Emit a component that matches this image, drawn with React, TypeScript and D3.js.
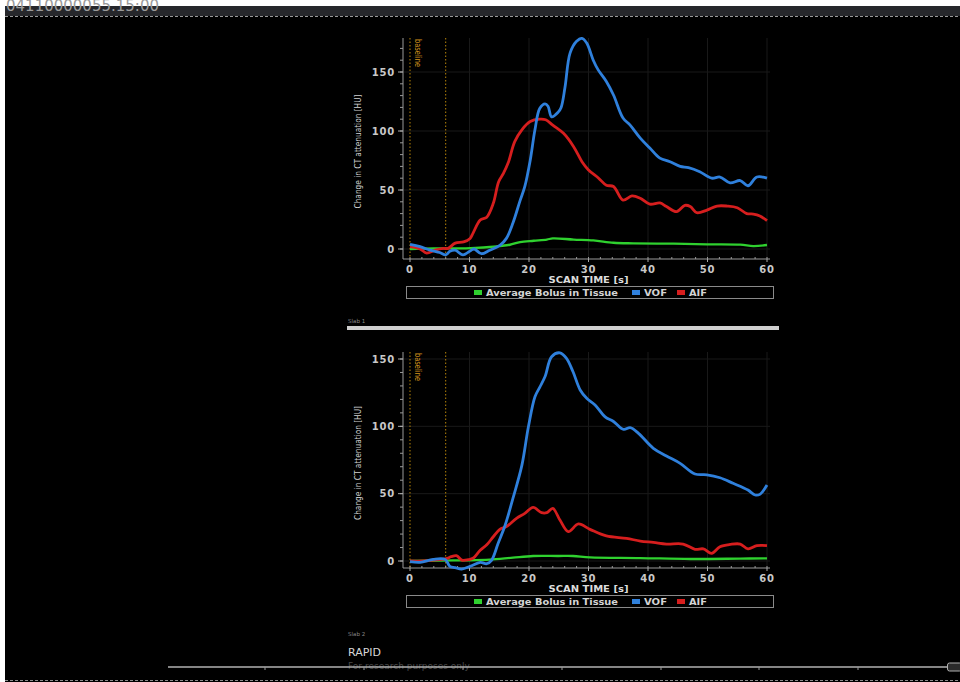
import React from 'react';
import * as d3 from 'd3';

// time [s], change in HU
const slab1Vof: [number, number][] = [
  [0, 4], [1.7, 2], [3.4, -1], [5, -3], [6, -5], [6.7, -2], [7.6, -1], [8.9, -5], [10.3, -1], [10.8, 0],
  [12, -4], [13.4, -1], [15.1, 3], [16.2, 9], [17.3, 22], [18.5, 41], [19.3, 53], [20.2, 75], [21, 101],
  [21.8, 119], [22.7, 123], [23.2, 121], [23.8, 112], [24.9, 116], [25.4, 120], [26.05, 137], [26.9, 166],
  [28, 176], [28.9, 178.5], [29.7, 174.5], [30.8, 160], [31.6, 152], [33, 142], [34.2, 130.5], [35.8, 111],
  [37, 105], [38.7, 94], [40.3, 85.6], [42, 77], [43.7, 74], [45.4, 70], [46.8, 69], [48.7, 65.5], [50.7, 60],
  [52.1, 61], [53.8, 56], [55.5, 58], [56.8, 53.6], [58.3, 61], [60, 60],
];
const slab1Aif: [number, number][] = [
  [0, 2], [1.7, 0], [2.8, -3.5], [4.2, -1], [5.6, 0.5], [6.4, 0.5], [7.6, 5], [9, 6], [10.1, 9], [10.6, 13.5],
  [11.8, 24.6], [12.9, 27], [14, 38.7], [14.9, 57], [15.7, 64], [16.5, 73], [17.6, 91], [18.8, 101], [20.2, 108],
  [21.8, 110], [22.8, 109.5], [24, 105], [25.8, 98], [27.5, 86.7], [28.9, 74], [30, 67], [31.7, 60], [33, 54],
  [34.2, 53], [35.8, 41.5], [37.3, 45], [38.7, 43], [40.3, 38], [42, 39], [43.1, 36], [44.8, 31.6], [46.2, 37],
  [47.1, 36], [48.2, 30.8], [49.9, 33], [51.6, 36.4], [53.3, 36.4], [55, 35], [56.6, 30], [57.7, 29.6],
  [58.8, 28], [60, 24],
];
const slab1Tissue: [number, number][] = [
  [0, 0], [4, 0.5], [8, 0.5], [11, 1], [13.4, 1.7], [15, 2.5], [16.8, 3.6], [18.5, 5.9], [20.8, 7], [23, 8],
  [24, 9], [27.5, 8], [30.8, 7.3], [34.2, 5.3], [37.5, 4.8], [44.3, 4.5], [49.9, 4], [55.5, 3.7], [57.7, 2.5],
  [60, 3.4],
];

const slab2Vof: [number, number][] = [
  [0, -0.5], [1.7, -1], [3.9, 1.2], [5.9, 1.2], [6.7, -4], [7.6, -5], [8.7, -6], [10.1, -4], [11.8, -1],
  [12.9, -2], [13.7, 0.5], [14.8, 13], [16, 26.7], [17.3, 46.5], [18.8, 71], [19.9, 99.7], [21, 122],
  [21.8, 129], [22.7, 137], [23.8, 151.7], [25.2, 154.6], [26.3, 150.5], [27.4, 140.5], [28.6, 127],
  [29.7, 120.8], [31.1, 115.8], [32.8, 107], [34.2, 103.6], [35.9, 97.7], [37, 99], [38.4, 94.8], [40.9, 83.7],
  [43.1, 78], [45.4, 72.5], [47.9, 64.6], [49.9, 64], [52.1, 61.8], [54.3, 57.7], [56.8, 52.7], [58, 49],
  [58.8, 49.5], [60, 56.4],
];
const slab2Aif: [number, number][] = [
  [0, 0], [2.2, 0], [5, 1], [6.1, 1.7], [6.9, 3.2], [7.8, 4], [8.7, 0.7], [9.8, 1], [10.6, 2], [11.8, 8],
  [12.9, 12], [14, 18], [15.1, 23.5], [16.2, 25.5], [17.9, 31.7], [19.3, 35.4], [20.7, 39.8], [22.1, 35.9],
  [23, 35.9], [24, 39], [25.2, 30.4], [26.6, 21.8], [28.3, 27.5], [30.25, 23.5], [33, 18.6], [36.4, 16.8],
  [38.7, 14.8], [40.9, 13.8], [43.1, 12.6], [45.9, 12.6], [47.9, 8.7], [49.3, 9], [50.7, 5.7], [52.1, 10.6],
  [53.8, 12.3], [55.5, 12.6], [56.8, 9], [58.3, 11.4], [60, 11.4],
];
const slab2Tissue: [number, number][] = [
  [0, 0], [5, 0.3], [9, 0.5], [13.4, 1], [17.3, 2.5], [20.7, 3.7], [24.9, 3.7], [27.4, 3.7], [30.25, 2.7],
  [38.7, 2.2], [47.1, 1.5], [55.5, 1.8], [60, 2],
];

const xTicks = [0, 10, 20, 30, 40, 50, 60];
const yTicks = [0, 50, 100, 150];
const baselineMarks = [0, 6];
const legendItems = ['Average Bolus in Tissue', 'VOF', 'AIF'];
const colors = { tissue: '#2fd12f', vof: '#2f80dc', aif: '#d61e1e' };
const rulerTicks = [265, 364, 463, 562, 661, 759, 858];

const FONT = 'DejaVu Sans, sans-serif';

type PanelProps = {
  top: number; bottom: number; y0: number; y150: number;
  tissue: [number, number][]; vof: [number, number][]; aif: [number, number][];
};

function Panel({ top, bottom, y0, y150, tissue, vof, aif }: PanelProps) {
  const x = d3.scaleLinear().domain([0, 60]).range([410, 767]);
  const y = d3.scaleLinear().domain([0, 150]).range([y0, y150]);
  const yMin = y.invert(bottom);
  const yMax = y.invert(top);
  const line = d3.line<[number, number]>()
    .x((d) => x(d[0]))
    .y((d) => y(d[1]))
    .curve(d3.curveCatmullRom.alpha(0.5));
  const axisX = 403;
  const minorX = d3.range(0, 61, 2);
  const minorY = d3.range(Math.ceil(yMin / 10) * 10, yMax, 10);
  const legendY = bottom + 34;

  return (
    <g>
      {/* grid */}
      {xTicks.slice(1).map((t) => (
        <line key={'gx' + t} x1={x(t)} x2={x(t)} y1={top} y2={bottom} stroke="#191919" strokeWidth={1} />
      ))}
      {yTicks.map((t) => (
        <line key={'gy' + t} x1={axisX} x2={770} y1={y(t)} y2={y(t)} stroke="#191919" strokeWidth={1} />
      ))}
      {/* baseline markers */}
      {baselineMarks.map((t) => (
        <line key={'b' + t} x1={x(t)} x2={x(t)} y1={top} y2={bottom} stroke="#b8860b" strokeWidth={1} strokeDasharray="1.5,2" />
      ))}
      <text transform={`translate(${x(0) + 5},${top + 1}) rotate(90)`} fill="#d4941c" fontSize={8.5} fontFamily={FONT}
        textLength={28} lengthAdjust="spacingAndGlyphs">baseline</text>
      {/* axes */}
      <line x1={axisX} x2={axisX} y1={top} y2={bottom} stroke="#9a9a9a" strokeWidth={1} />
      <line x1={axisX} x2={770} y1={bottom} y2={bottom} stroke="#9a9a9a" strokeWidth={1} />
      {minorY.map((t) => (
        <line key={'my' + t} x1={axisX - 3} x2={axisX} y1={y(t)} y2={y(t)} stroke="#9a9a9a" strokeWidth={1} />
      ))}
      {yTicks.map((t) => (
        <g key={'ty' + t}>
          <line x1={axisX - 5} x2={axisX} y1={y(t)} y2={y(t)} stroke="#aaa" strokeWidth={1} />
          <text x={axisX - 8} y={y(t) + 3.5} textAnchor="end" fill="#c8c8c8" fontSize={10} fontWeight="bold"
            fontFamily={FONT} letterSpacing={0.8}>{t}</text>
        </g>
      ))}
      {minorX.map((t) => (
        <line key={'mx' + t} x1={x(t)} x2={x(t)} y1={bottom - 2} y2={bottom} stroke="#9a9a9a" strokeWidth={1} />
      ))}
      {xTicks.map((t) => (
        <g key={'tx' + t}>
          <line x1={x(t)} x2={x(t)} y1={bottom} y2={bottom + 3} stroke="#aaa" strokeWidth={1} />
          <text x={x(t)} y={bottom + 14} textAnchor="middle" fill="#c8c8c8" fontSize={10} fontWeight="bold"
            fontFamily={FONT} letterSpacing={0.8}>{t}</text>
        </g>
      ))}
      <text x={x(30)} y={bottom + 24} textAnchor="middle" fill="#dcdcdc" fontSize={9} fontWeight="bold" fontFamily={FONT}
        textLength={80} lengthAdjust="spacingAndGlyphs">SCAN TIME [s]</text>
      <text transform={`translate(361,${(top + bottom) / 2 + 3}) rotate(-90)`} textAnchor="middle" fill="#d0d0d0" fontSize={8}
        fontFamily={FONT} textLength={114} lengthAdjust="spacingAndGlyphs">Change in CT attenuation [HU]</text>
      {/* series */}
      <path d={line(tissue) || ''} fill="none" stroke={colors.tissue} strokeWidth={2.3} />
      <path d={line(aif) || ''} fill="none" stroke={colors.aif} strokeWidth={2.8} />
      <path d={line(vof) || ''} fill="none" stroke={colors.vof} strokeWidth={2.8} />
      {/* legend */}
      <rect x={406.5} y={legendY - 6.5} width={367} height={12} fill="#000" stroke="#8a8a8a" strokeWidth={1} />
      {legendItems.map((name, i) => {
        const starts = [474, 632, 677];
        const widths = [132, 23, 18];
        const c = [colors.tissue, colors.vof, colors.aif][i];
        return (
          <g key={name}>
            <rect x={starts[i]} y={legendY - 3} width={8} height={5} fill={c} />
            <text x={starts[i] + 12} y={legendY + 3} fill="#d4d4d4" fontSize={8.5} fontWeight="bold" fontFamily={FONT}
              textLength={widths[i]} lengthAdjust="spacingAndGlyphs">{name}</text>
          </g>
        );
      })}
    </g>
  );
}

export default function App() {
  return (
    <div style={{ position: 'absolute', left: 0, top: 0 }}>
      <svg width={960} height={682} style={{ display: 'block', background: '#fff' }}>
        <defs>
          <clipPath id="topbar"><rect x={5} y={0} width={955} height={16} /></clipPath>
        </defs>
        <rect x={5} y={6} width={955} height={10} fill="#26272b" />
        <text x={6} y={11} fill="#9a9a9a" fontSize={15} fontFamily={FONT} clipPath="url(#topbar)">04110000055.15:00</text>
        <rect x={5} y={16} width={955} height={666} fill="#000" />
        <line x1={5} x2={960} y1={16.5} y2={16.5} stroke="#9a9a9a" strokeWidth={1} strokeDasharray="3,2" />

        <Panel top={38} bottom={259} y0={249} y150={72} tissue={slab1Tissue} vof={slab1Vof} aif={slab1Aif} />
        <text x={348} y={323} fill="#888" fontSize={5.5} fontFamily={FONT}>Slab 1</text>
        <rect x={347} y={326} width={432} height={4} fill="#cfcfcf" />

        <Panel top={352} bottom={568} y0={561} y150={359} tissue={slab2Tissue} vof={slab2Vof} aif={slab2Aif} />
        <text x={348} y={636} fill="#888" fontSize={5.5} fontFamily={FONT}>Slab 2</text>

        <text x={348} y={656} fill="#d8d8d8" fontSize={11} fontFamily={FONT}>RAPID</text>
        <text x={348} y={669} fill="#4a4a4a" fontSize={9} fontFamily={FONT}>For research purposes only</text>
        <line x1={168} x2={948} y1={667} y2={667} stroke="#b0b0b0" strokeWidth={1.6} />
        {rulerTicks.map((tx) => (
          <line key={tx} x1={tx} x2={tx} y1={667} y2={670} stroke="#9a9a9a" strokeWidth={1} />
        ))}
        <rect x={947.5} y={663} width={14} height={8} rx={2} fill="#2a2a2a" stroke="#b0b0b0" strokeWidth={1} />
        <line x1={5} x2={960} y1={680.5} y2={680.5} stroke="#8a8a8a" strokeWidth={1} strokeDasharray="3,2" />
      </svg>
    </div>
  );
}
